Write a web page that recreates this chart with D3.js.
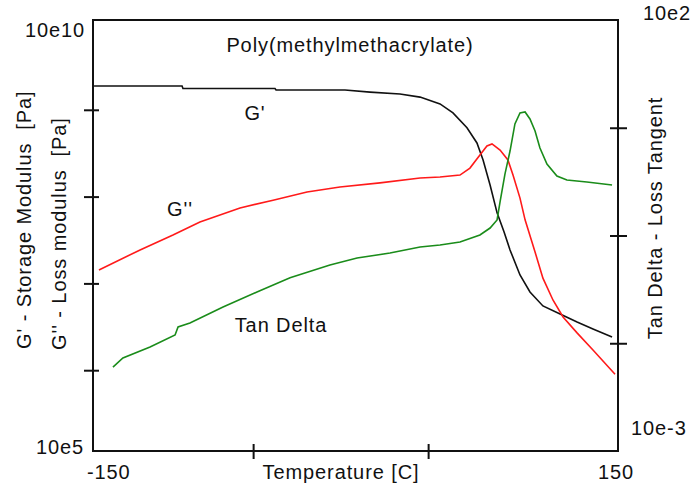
<!DOCTYPE html>
<html>
<head>
<meta charset="utf-8">
<script src="https://cdn.jsdelivr.net/npm/d3@7"></script>
<style>
  html, body { margin: 0; padding: 0; background: #fff; }
  svg text { font-family: "Liberation Sans", Arial, sans-serif; fill: #111; white-space: pre; letter-spacing: 0.9px; }
</style>
</head>
<body>
<svg id="chart" width="692" height="489"></svg>
<script>
// Dynamic mechanical analysis of PMMA: moduli (left, log) and tan delta (right, log)

// Storage modulus G' [Pa]
const gStorageTemp = [-149.4, -99.1, -98.6, -46, -45.4, -6, 8.3, 25.4, 36.9, 48.3, 55.7, 63.7, 69.4, 72.9, 76.9, 80.9, 84.9, 88.3, 94, 99.7, 107.1, 116.9, 126.6, 135.7, 146.6];
const gStorageVal = [1.88e10, 1.88e10, 1.76e10, 1.76e10, 1.69e10, 1.69e10, 1.60e10, 1.52e10, 1.40e10, 1.17e10, 9.2e9, 6.2e9, 4.15e9, 2.64e9, 1.36e9, 6.5e8, 3.9e8, 2.43e8, 1.25e8, 7.96e7, 5.5e7, 4.44e7, 3.59e7, 2.99e7, 2.41e7];

// Loss modulus G'' [Pa]
const gLossTemp = [-146.6, -123.1, -104.3, -88.9, -66, -47.1, -27.7, -8.9, 14, 36.9, 48.3, 59.7, 65.4, 71.1, 75.1, 78, 82.6, 87.1, 90, 94, 96.9, 102.6, 107.1, 112.9, 118.6, 126.6, 135.7, 148.3];
const gLossVal = [1.43e8, 2.43e8, 3.61e8, 5.1e8, 7.4e8, 9.1e8, 1.13e9, 1.29e9, 1.44e9, 1.64e9, 1.68e9, 1.77e9, 2.13e9, 3.01e9, 3.83e9, 4.04e9, 3.44e9, 2.64e9, 1.77e9, 9.6e8, 5.4e8, 2.30e8, 1.15e8, 6.4e7, 4.10e7, 2.69e7, 1.71e7, 9.0e6];

// Loss tangent tan(delta)
const tanDeltaTemp = [-138.6, -132.9, -117.4, -103.1, -101.4, -94.6, -75.7, -56.3, -37.4, -14.6, 0.9, 19.7, 36.9, 48.3, 59.7, 71.1, 76.9, 80.9, 82.6, 85.4, 88.3, 91.1, 94, 96.9, 99.7, 102.6, 105.4, 109.4, 115.1, 120.8, 132.2, 146.6];
const tanDeltaVal = [0.0942, 0.120, 0.161, 0.222, 0.275, 0.305, 0.469, 0.70, 1.02, 1.44, 1.73, 1.98, 2.33, 2.45, 2.66, 3.21, 3.86, 4.79, 7.74, 16.3, 30.2, 62.2, 83.4, 85.7, 71.1, 51.5, 32.7, 21.3, 15.5, 13.9, 13.2, 12.2];

// Axis extents and tick positions
const tempDomain = [-150, 150];
const tempTicks = [-58.5, 41.5];
const modulusDomain = [1e6, 1e11];        // labelled 10e5 .. 10e10
const modulusTicks = [1e7, 1e8, 1e9, 1e10];
const tanDomain = [1e-2, 1e3];            // labelled 10e-3 .. 10e2
const tanTickExponents = [-0.75, 0.5, 1.75];

const svg = d3.select("#chart");
const frame = { left: 93, right: 618, top: 20, bottom: 451 };

const x = d3.scaleLinear().domain(tempDomain).range([frame.left, frame.right]);
const yMod = d3.scaleLog().domain(modulusDomain).range([457, 23]);
const yTan = d3.scaleLog().domain(tanDomain).range([frame.bottom, frame.top]);

// "10e5" style labels: mantissa 10 and exponent one less than the power
const tenE = v => "10e" + (Math.round(Math.log10(v)) - 1);

// Plot frame
svg.append("rect")
  .attr("x", frame.left).attr("y", frame.top)
  .attr("width", frame.right - frame.left).attr("height", frame.bottom - frame.top)
  .attr("fill", "none").attr("stroke", "#111").attr("stroke-width", 2);

// Axes with ticks crossing the frame
function crossTicks(g) {
  g.select(".domain").remove();
  g.selectAll(".tick text").remove();
  g.selectAll(".tick line").attr("stroke", "#111").attr("stroke-width", 2);
  return g;
}
const xAxis = svg.append("g").attr("transform", `translate(0,${frame.bottom})`)
  .call(d3.axisBottom(x).tickValues(tempTicks));
crossTicks(xAxis);
xAxis.selectAll(".tick line").attr("y1", -7).attr("y2", 8);

const yAxis = svg.append("g").attr("transform", `translate(${frame.left},0)`)
  .call(d3.axisLeft(yMod).tickValues(modulusTicks));
crossTicks(yAxis);
yAxis.selectAll(".tick line").attr("x1", -9).attr("x2", 6);

const yTanAxis = svg.append("g").attr("transform", `translate(${frame.right},0)`)
  .call(d3.axisRight(yTan).tickValues(tanTickExponents.map(e => Math.pow(10, e))));
crossTicks(yTanAxis);
yTanAxis.selectAll(".tick line").attr("x1", -8).attr("x2", 9);

// Curves
const lineMod = d3.line().x(d => x(d[0])).y(d => yMod(d[1]));
const lineTan = d3.line().x(d => x(d[0])).y(d => yTan(d[1]));
const zip = (a, b) => a.map((t, i) => [t, b[i]]);

svg.append("path").datum(zip(gStorageTemp, gStorageVal))
  .attr("d", lineMod).attr("fill", "none").attr("stroke", "#111").attr("stroke-width", 1.6);
svg.append("path").datum(zip(gLossTemp, gLossVal))
  .attr("d", lineMod).attr("fill", "none").attr("stroke", "#ff1a1a").attr("stroke-width", 1.6);
svg.append("path").datum(zip(tanDeltaTemp, tanDeltaVal))
  .attr("d", lineTan).attr("fill", "none").attr("stroke", "#1a8c1a").attr("stroke-width", 1.6);

// Text
const fs = 20;
function label(txt, px, py, anchor, rot) {
  const t = svg.append("text").text(txt)
    .attr("font-size", fs).attr("text-anchor", anchor || "middle");
  if (rot) t.attr("transform", `translate(${px},${py}) rotate(${rot})`);
  else t.attr("x", px).attr("y", py);
  return t;
}

label("Poly(methylmethacrylate)", 350, 52);
label("G'", 255, 120);
label("G''", 180, 216);
label("Tan Delta", 281, 332);

// Axis end labels
label(tenE(modulusDomain[1]), 85, 37, "end");
label(tenE(modulusDomain[0]), 84, 454, "end");
label(tenE(tanDomain[1]), 643, 20, "start");
label(tenE(tanDomain[0]), 631, 435, "start");
label(String(tempDomain[0]), x(tempDomain[0]) - 6, 479, "start");
label(String(tempDomain[1]), x(tempDomain[1]) - 2, 479, "middle");

// Axis titles
label("Temperature [C]", 341, 479);
label("G' - Storage Modulus  [Pa]", 31, 349, "start", -90);
label("G'' - Loss modulus  [Pa]", 66, 350, "start", -90);
label("Tan Delta - Loss Tangent", 662, 218, "middle", -90);
</script>
</body>
</html>
